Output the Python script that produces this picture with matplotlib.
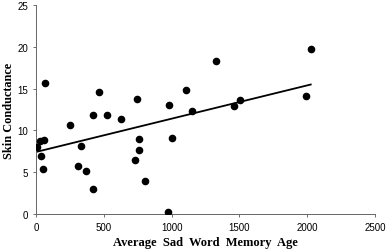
import matplotlib
matplotlib.use("Agg")
import matplotlib.pyplot as plt
import numpy as np

# values
memory_age = [5, 29, 57, 39, 49, 69, 251, 310, 334, 371, 420, 418, 462, 526, 629,
              733, 745, 757, 760, 801, 973, 978, 1005, 1106, 1148, 1327, 1462,
              1504, 1991, 2026]
skin_cond = [8.0, 8.7, 8.9, 7.0, 5.45, 15.7, 10.6, 5.8, 8.2, 5.2, 2.95, 11.8, 14.6,
             11.9, 11.4, 6.45, 13.8, 9.0, 7.7, 3.9, 0.3, 13.0, 9.07, 14.8, 12.3,
             18.3, 12.9, 13.7, 14.1, 19.8]
fit_intercept = 7.43
fit_slope = 0.00398

x_ticks = [0, 500, 1000, 1500, 2000, 2500]
y_ticks = [0, 5, 10, 15, 20, 25]

fig = plt.figure(figsize=(3.87, 2.51), dpi=100)
ax = fig.add_axes([0.093, 0.143, 0.876, 0.833])

ax.scatter(memory_age, skin_cond, s=20, c="k", zorder=3)
xl = np.array([min(memory_age), max(memory_age)])
ax.plot(xl, fit_intercept + fit_slope * xl, c="k", lw=1.3)

ax.set_xlim(0, 2500)
ax.set_ylim(0, 25)
ax.set_xticks(x_ticks)
ax.set_yticks(y_ticks)
ax.tick_params(labelsize=7, length=2.5, width=0.6, color="#555555", pad=3)
for lab in ax.get_xticklabels() + ax.get_yticklabels():
    lab.set_family("Liberation Sans")
for s in ["top", "right"]:
    ax.spines[s].set_visible(False)
for s in ["left", "bottom"]:
    ax.spines[s].set_color("#666666")
    ax.spines[s].set_linewidth(0.7)

ax.set_xlabel("Average  Sad  Word  Memory  Age", family="Liberation Serif",
              fontweight="bold", fontsize=9, va="center")
ax.xaxis.set_label_coords(0.4985, -0.134)
ax.set_ylabel("Skin Conductance", family="Liberation Serif",
              fontweight="bold", fontsize=8.8, va="center")
ax.yaxis.set_label_coords(-0.08, 0.5)

plt.savefig("out.png", dpi=100)
